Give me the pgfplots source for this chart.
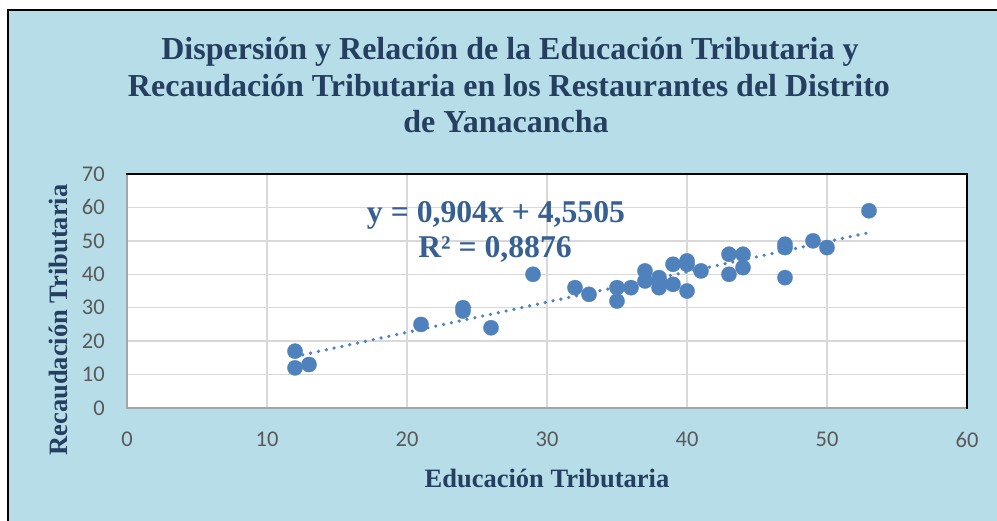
\documentclass[border=0pt]{standalone}
\usepackage{pgfplots}
\pgfplotsset{compat=1.18}
\usepackage{fontspec}
\setmainfont{Liberation Serif}
\newfontfamily\carlito{Carlito}
\definecolor{bgblue}{HTML}{B7DDE8}
\definecolor{navy}{HTML}{243F60}
\definecolor{eqblue}{HTML}{376092}
\definecolor{ptblue}{HTML}{4F81BD}
\definecolor{gridgray}{HTML}{D9D9D9}
\definecolor{ticktext}{HTML}{595959}
\begin{document}
\begin{tikzpicture}[x=1pt,y=1pt]
\useasboundingbox (0,0) rectangle (997,520);
\fill[white] (0,0) rectangle (997,520);
\filldraw[fill=bgblue,draw=black,line width=2pt] (8,-10) rectangle (1010,510);
\begin{axis}[
  at={(127pt,112pt)}, anchor=south west,
  scale only axis, width=840pt, height=234pt,
  xmin=0, xmax=60, ymin=0, ymax=70,
  xtick={0,10,20,30,40,50,60},
  ytick={0,10,20,30,40,50,60,70},
  axis background/.style={fill=white},
  axis line style={draw=none},
  major tick length=0pt,
  grid=major,
  major grid style={gridgray, line width=1.4pt},
  /pgf/number format/assume math mode=true,
  tick label style={font=\carlito\fontsize{22.5}{26}\selectfont, text=ticktext},
  xticklabel style={anchor=north, inner sep=0pt, yshift=-24pt},
  yticklabel style={anchor=east, inner sep=0pt, xshift=-22pt},
  clip=false,
]
\addplot[only marks, mark=*, mark size=7.6pt, mark options={fill=ptblue, draw=ptblue, line width=0.3pt}] coordinates {
(12,17) (12,12) (13,13) (21,25) (24,30) (24,29) (26,24) (29,40)
(32,36) (33,34) (35,36) (35,32) (36,36) (37,41) (37,38) (38,39) (38,38) (38,36)
(39,43) (39,37) (40,44) (40,43) (40,35) (41,41) (43,46) (43,40) (44,46) (44,42)
(47,49) (47,48) (47,39) (49,50) (50,48) (53,59)
};
\addplot[ptblue, line width=3.6pt, line cap=round, dash pattern=on 0pt off 8pt] coordinates {(12,15.399) (53,52.463)};
\end{axis}
% plot area frame
\draw[color=gray!70, line width=2pt] (127,346) -- (127,112) -- (967,112);
\draw[black, line width=2pt] (126,346) -- (967,346) -- (967,111);
% title
\node[anchor=base, font=\bfseries\fontsize{32}{36}\selectfont, text=navy, inner sep=0pt] at (510,460) {Dispersión y Relación de la Educación Tributaria y};
\node[anchor=base, font=\bfseries\fontsize{32}{36}\selectfont, text=navy, inner sep=0pt] at (509,423) {Recaudación Tributaria en los Restaurantes del Distrito};
\node[anchor=base, font=\bfseries\fontsize{32}{36}\selectfont, text=navy, inner sep=0pt] at (506,387) {de Yanacancha};
% equation
\node[anchor=base, font=\bfseries\fontsize{31.7}{36}\selectfont, text=eqblue, inner sep=0pt] at (496,297) {y = 0,904x + 4,5505};
\node[anchor=base, font=\bfseries\fontsize{31.7}{36}\selectfont, text=eqblue, inner sep=0pt] at (495,262) {R² = 0,8876};
% axis labels
\node[anchor=base, font=\bfseries\fontsize{26.5}{30}\selectfont, text=navy, inner sep=0pt] at (547,33) {Educación Tributaria};
\node[anchor=base, rotate=90, font=\bfseries\fontsize{26.5}{30}\selectfont, text=navy, inner sep=0pt] at (67.5,200) {Recaudación Tributaria};
\end{tikzpicture}
\end{document}
